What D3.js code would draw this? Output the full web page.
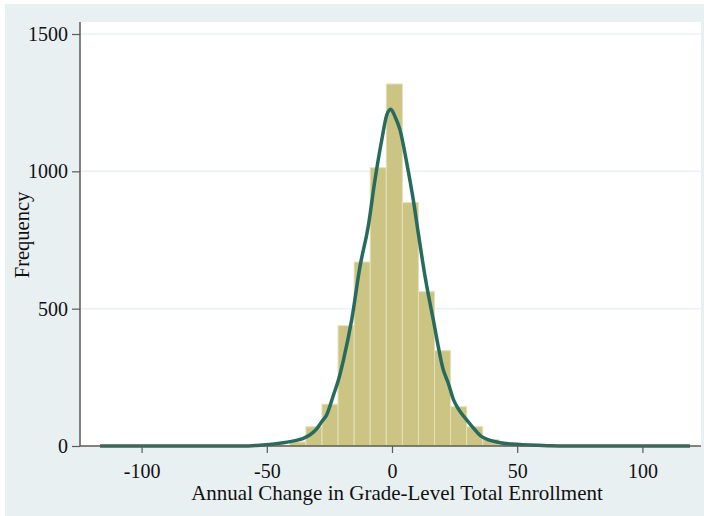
<!DOCTYPE html>
<html>
<head>
<meta charset="utf-8">
<script src="https://cdn.jsdelivr.net/npm/d3@7"></script>
<style>
  html, body { margin: 0; padding: 0; background: #ffffff; }
  svg { display: block; }
  text { font-family: "Liberation Serif", "Times New Roman", serif; fill: #111; }
</style>
</head>
<body>
<svg id="chart" width="704" height="516"></svg>
<script>
// ---- data ----
const binStart = -117.84;      // lower edge of first bin (units)
const binWidth = 6.42;         // bin width (units)
const binFreq = [0,0,0,0,0,0,0,0,0,0,0,2,15,70,152,438,670,1013,1318,886,562,347,143,70,24,6,2,0,0,0,0,0,0,0,0,0,0];
const curveX = [-116.6,-60,-52.7,-43.4,-40.7,-36.7,-35.4,-30.1,-28.1,-26.1,-23.4,-21.4,-19.4,-16.1,-12.8,-9.5,-6.8,-4.1,-2.1,-0.5,1.2,3.2,5.9,8.5,10.5,13.2,16.5,20.5,22.5,24.5,26.5,29.8,31.2,35.8,43.1,49.8,63,70,119];
const curveY = [0,0,3,12,16,24,28,62,88,113,185,240,313,459,653,799,969,1114,1205,1226,1199,1151,1030,896,775,617,459,277,228,170,135,95,80,34,12,6,1,0,0];
const xTicks = [-100,-50,0,50,100];
const yTicks = [0,500,1000,1500];
const xTitle = "Annual Change in Grade-Level Total Enrollment";
const yTitle = "Frequency";

// ---- layout ----
const svg = d3.select("#chart");
const plot = {left: 80, right: 701, top: 22, bottom: 446};

svg.append("rect").attr("x", 5).attr("y", 4).attr("width", 699).attr("height", 512).attr("fill", "#e9f0f2");
svg.append("rect").attr("x", plot.left).attr("y", plot.top)
  .attr("width", plot.right - plot.left).attr("height", plot.bottom - plot.top).attr("fill", "#ffffff");

const x = d3.scaleLinear().domain([-124.6, 123.4]).range([plot.left, plot.right]);
const y = d3.scaleLinear().domain([0, 1500]).range([446, 34]);

// gridlines
svg.append("g").selectAll("line").data(yTicks.filter(d => d > 0)).join("line")
  .attr("x1", plot.left).attr("x2", plot.right)
  .attr("y1", d => y(d)).attr("y2", d => y(d))
  .attr("stroke", "#eaf1f4").attr("stroke-width", 1.5);

// bars
const bins = binFreq.map((f, i) => ({x0: binStart + i * binWidth, x1: binStart + (i + 1) * binWidth, f}));
svg.append("g").selectAll("rect").data(bins.filter(b => b.f > 0)).join("rect")
  .attr("x", d => x(d.x0)).attr("width", d => x(d.x1) - x(d.x0))
  .attr("y", d => y(d.f)).attr("height", d => y(0) - y(d.f))
  .attr("fill", "#ccc482").attr("stroke", "#e4e0bb").attr("stroke-width", 1);

// density curve
const pts = curveX.map((v, i) => [v, curveY[i]]);
svg.append("path").datum(pts)
  .attr("d", d3.line().x(d => x(d[0])).y(d => y(d[1])).curve(d3.curveMonotoneX))
  .attr("fill", "none").attr("stroke", "#276b5e").attr("stroke-width", 3.5)
  .attr("stroke-linejoin", "round");

// axes
const axisColor = "#5b5b52";
const fmt = d => String(d);   // plain hyphen-minus, as in the reference
const xAxis = svg.append("g").attr("transform", `translate(0,${plot.bottom})`)
  .call(d3.axisBottom(x).tickValues(xTicks).tickSize(7).tickPadding(11).tickFormat(fmt));
const yAxis = svg.append("g").attr("transform", `translate(${plot.left},0)`)
  .call(d3.axisLeft(y).tickValues(yTicks).tickSize(8).tickPadding(4).tickFormat(fmt));
[xAxis, yAxis].forEach(g => {
  g.select(".domain").remove();
  g.selectAll(".tick line").attr("stroke", axisColor).attr("stroke-width", 1.2);
  g.selectAll(".tick text").attr("font-family", "Liberation Serif, serif").attr("font-size", 20).attr("fill", "#111");
});
xAxis.selectAll(".tick text").attr("dy", "0.71em");
svg.append("line").attr("x1", plot.left).attr("x2", plot.right).attr("y1", plot.bottom).attr("y2", plot.bottom)
  .attr("stroke", axisColor).attr("stroke-width", 1.5);
svg.append("line").attr("x1", plot.left).attr("x2", plot.left).attr("y1", plot.top).attr("y2", plot.bottom)
  .attr("stroke", axisColor).attr("stroke-width", 1.5);

// titles
svg.append("text").attr("x", 397).attr("y", 500).attr("text-anchor", "middle")
  .attr("font-size", 21).text(xTitle);
svg.append("text").attr("transform", "translate(29,235) rotate(-90)").attr("text-anchor", "middle")
  .attr("font-size", 20.5).text(yTitle);
</script>
</body>
</html>
